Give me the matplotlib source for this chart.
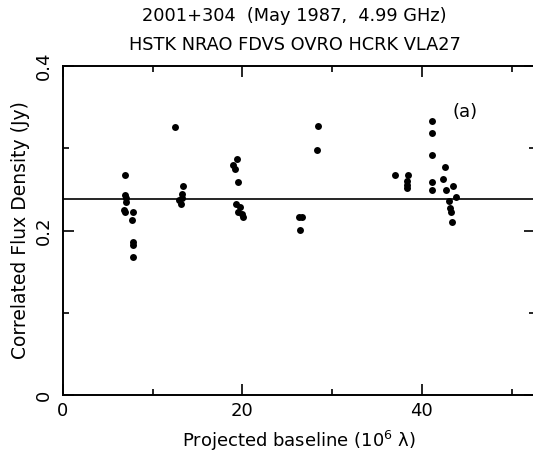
import numpy as np
import matplotlib.pyplot as plt
from matplotlib.ticker import MultipleLocator

# Projected baseline (10^6 lambda) and correlated flux density (Jy)
baseline = [6.95, 6.95, 6.98, 7.02, 6.83, 6.91, 7.76, 7.73, 7.76, 7.76, 7.76,
            12.44, 13.41, 13.30, 13.22, 12.96, 13.11,
            19.42, 18.98, 19.16, 19.54, 19.28, 19.72, 19.54, 19.91, 20.02,
            26.30, 26.59, 26.44,
            28.45, 28.34,
            36.99, 38.44, 38.37, 38.33, 38.33,
            41.15, 41.11, 41.11, 41.11, 41.11, 42.52, 42.30, 42.71, 43.49,
            43.79, 43.01, 43.16, 43.23, 43.31]
flux = [0.267, 0.243, 0.239, 0.235, 0.225, 0.222, 0.222, 0.213, 0.186, 0.182, 0.168,
        0.326, 0.254, 0.244, 0.240, 0.237, 0.232,
        0.287, 0.280, 0.275, 0.259, 0.232, 0.229, 0.222, 0.220, 0.217,
        0.217, 0.216, 0.201,
        0.327, 0.298,
        0.267, 0.268, 0.260, 0.255, 0.252,
        0.333, 0.318, 0.292, 0.259, 0.249, 0.277, 0.263, 0.249, 0.254,
        0.241, 0.236, 0.227, 0.223, 0.210]
model_flux = 0.238  # horizontal fit line

plt.rcParams['font.family'] = ['DejaVu Sans']
fig = plt.figure(figsize=(5.33, 4.59), dpi=100)
ax = fig.add_axes([63 / 533, 64 / 459, 472 / 533, 329 / 459])

ax.plot(baseline, flux, 'o', color='black', markersize=5, markeredgewidth=0)
ax.axhline(model_flux, color='black', linewidth=1.2)

ax.set_xlim(0, 52.6)
ax.set_ylim(0, 0.4)
ax.xaxis.set_minor_locator(MultipleLocator(10))
ax.yaxis.set_minor_locator(MultipleLocator(0.1))
ax.set_xticks([0, 20, 40])
ax.set_xticklabels(['0', '20', '40'])
ax.set_yticks([0, 0.2, 0.4])
ax.set_yticklabels(['0', '0.2', '0.4'], rotation=90, va='center')

ax.tick_params(which='both', direction='in', top=True, right=True, labelsize=13)
ax.tick_params(which='major', length=8, width=1.2)
ax.tick_params(which='minor', length=4, width=1.2)
ax.tick_params(axis='x', pad=5)
ax.tick_params(axis='y', pad=7)
for sp in ax.spines.values():
    sp.set_linewidth(1.4)

ax.set_xlabel('Projected baseline (10$^6$ λ)', fontsize=13, va='center')
ax.xaxis.set_label_coords(0.5, -0.14)
ax.set_ylabel('Correlated Flux Density (Jy)', fontsize=13.5, va='center')
ax.yaxis.set_label_coords(-0.091, 0.5)

ax.text(44.8, 0.344, '(a)', fontsize=13, ha='center', va='center')

fig.text(0.553, 0.965, '2001+304  (May 1987,  4.99 GHz)', fontsize=12.8, ha='center', va='center')
fig.text(0.553, 0.902, 'HSTK NRAO FDVS OVRO HCRK VLA27', fontsize=12.8, ha='center', va='center')

fig.savefig('out.png', dpi=100)
